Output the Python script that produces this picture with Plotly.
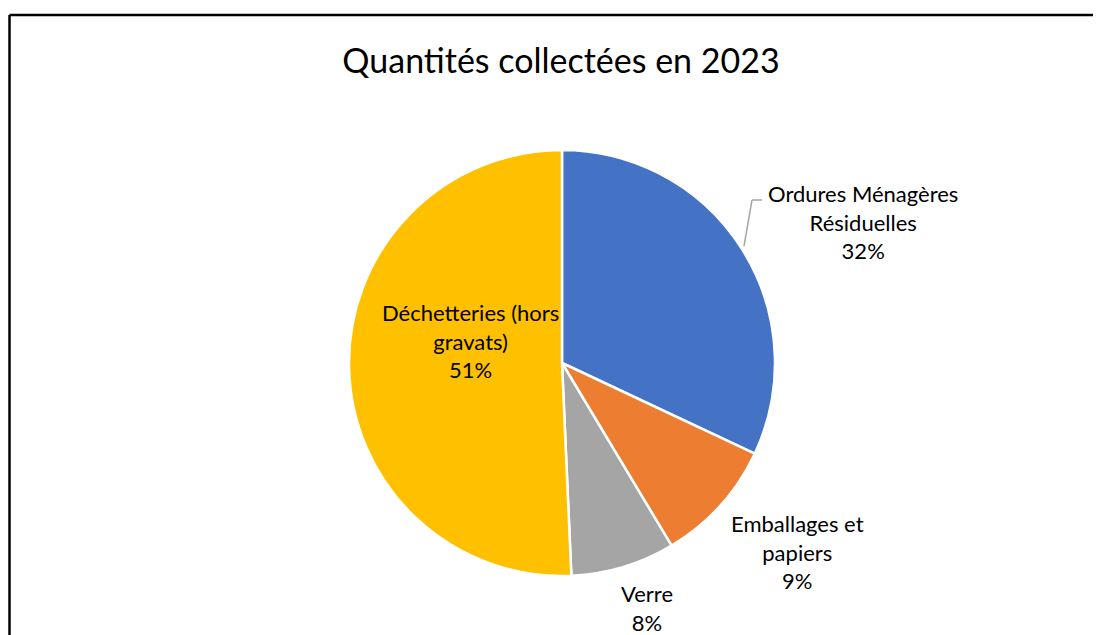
import plotly.graph_objects as go

# Quantités collectées en 2023 (part of total, %)
categories = ["Ordures Ménagères Résiduelles", "Emballages et papiers", "Verre", "Déchetteries (hors gravats)"]
label_lines = ["Ordures Ménagères<br>Résiduelles", "Emballages et<br>papiers", "Verre", "Déchetteries (hors<br>gravats)"]
values = [32.0, 9.4, 7.9, 50.7]
colors = ["#4472C4", "#ED7D31", "#A5A5A5", "#FFC000"]

# page has an 8px body margin, so the figure is drawn from (8, 8)
OFF = 8
W, H = 1101 - OFF, 635 - OFF
FONT = "Lato"


def px(x):
    return (x - OFF) / W


def py(y):
    return 1 - (y - OFF) / H


fig = go.Figure(go.Pie(
    labels=categories,
    values=values,
    sort=False,
    direction="clockwise",
    rotation=0,
    marker=dict(colors=colors, line=dict(color="white", width=2.5)),
    textinfo="none",
    hoverinfo="label+percent",
    showlegend=False,
    domain=dict(x=[px(349), px(775)], y=[py(576), py(150)]),
))

total = sum(values)
pcts = [round(v / total * 100) for v in values]

# label positions (pixels, center of text block)
label_pos = [(863, 222), (797, 552), (647, 608), (470, 341)]
for txt, p, (lx, ly) in zip(label_lines, pcts, label_pos):
    fig.add_annotation(
        x=px(lx), y=py(ly), xref="paper", yref="paper",
        text=f"{txt}<br>{p}%", showarrow=False,
        font=dict(family=FONT, size=22, color="#000000"),
        align="center", xanchor="center", yanchor="middle",
    )

# leader line for the first label
fig.add_shape(type="line", xref="paper", yref="paper",
              x0=px(744), y0=py(246), x1=px(752), y1=py(200),
              line=dict(color="#A6A6A6", width=1.5))
fig.add_shape(type="line", xref="paper", yref="paper",
              x0=px(752), y0=py(200), x1=px(762), y1=py(200),
              line=dict(color="#A6A6A6", width=1.5))

# chart frame (top and left edges visible)
fig.add_shape(type="line", xref="paper", yref="paper",
              x0=px(9.5), y0=py(15), x1=1, y1=py(15),
              line=dict(color="black", width=2.5))
fig.add_shape(type="line", xref="paper", yref="paper",
              x0=px(9.5), y0=py(15), x1=px(9.5), y1=0,
              line=dict(color="black", width=2.5))

fig.update_layout(
    width=W, height=H,
    margin=dict(l=0, r=0, t=0, b=0),
    paper_bgcolor="white",
    plot_bgcolor="white",
    title=dict(text="Quantités collectées en 2023", x=px(561), xanchor="center",
               y=py(61), yanchor="middle",
               font=dict(family=FONT, size=34, color="#000000")),
)

fig.write_html("out.html")
